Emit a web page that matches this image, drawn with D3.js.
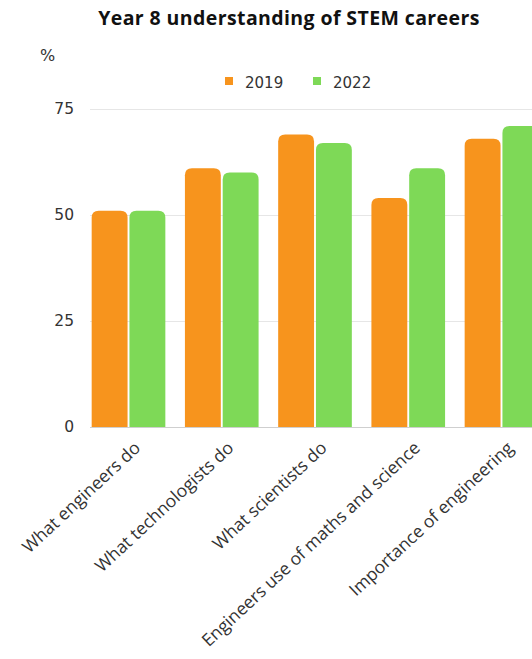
<!DOCTYPE html>
<html>
<head>
<meta charset="utf-8">
<script src="https://cdn.jsdelivr.net/npm/d3@7/dist/d3.min.js"></script>
<style>
  html, body { margin: 0; padding: 0; background: #fff; }
  svg { display: block; }
</style>
</head>
<body>
<svg id="chart" width="532" height="659"></svg>
<script>
// Survey topics shown on the x axis
const categories = [
  "What engineers do",
  "What technologists do",
  "What scientists do",
  "Engineers use of maths and science",
  "Importance of engineering"
];
// Survey years (one bar each per topic)
const years = ["2019", "2022"];
// Percentage of Year 8 pupils, per topic
const values2019 = [51, 61, 69, 54, 68];
const values2022 = [51, 60, 67, 61, 71];
// Y axis ticks
const yTicks = [0, 25, 50, 75];

const colors = { "2019": "#F7941D", "2022": "#7ED957" };
const seriesByYear = { "2019": values2019, "2022": values2022 };

const svg = d3.select("#chart");
const width = 532;

const plotTop = 109, plotBottom = 427, plotLeft = 90;

const y = d3.scaleLinear().domain([0, 75]).range([plotBottom, plotTop]);

const x0 = d3.scaleBand()
  .domain(categories)
  .range([plotLeft, 540])
  .paddingInner(0.21)
  .paddingOuter(0.018);

const x1 = d3.scaleBand()
  .domain(years)
  .range([0, x0.bandwidth()])
  .paddingInner(0.05);

// Title
svg.append("text")
  .attr("x", 289)
  .attr("y", 25)
  .attr("text-anchor", "middle")
  .attr("font-family", "'Open Sans', sans-serif")
  .attr("font-weight", 700)
  .attr("font-size", 19.5)
  .attr("letter-spacing", 0.4)
  .attr("fill", "#111")
  .text("Year 8 understanding of STEM careers");

// Unit label
svg.append("text")
  .attr("x", 40)
  .attr("y", 61)
  .attr("font-family", "'DejaVu Sans', sans-serif")
  .attr("font-size", 16)
  .attr("fill", "#333")
  .text("%");

// Legend
const legendItems = [
  { year: "2019", sx: 225, tx: 245 },
  { year: "2022", sx: 313, tx: 333 }
];
const legend = svg.append("g").attr("class", "legend");
legendItems.forEach(d => {
  legend.append("rect")
    .attr("x", d.sx).attr("y", 77)
    .attr("width", 8).attr("height", 8)
    .attr("fill", colors[d.year]);
  legend.append("text")
    .attr("x", d.tx).attr("y", 87.5)
    .attr("font-family", "'DejaVu Sans', sans-serif")
    .attr("font-size", 15)
    .attr("fill", "#333")
    .text(d.year);
});

// Horizontal gridlines and y tick labels
const yAxis = d3.axisLeft(y)
  .tickValues(yTicks)
  .tickSize(-(width - plotLeft))
  .tickPadding(16);

const gy = svg.append("g")
  .attr("transform", `translate(${plotLeft},0)`)
  .call(yAxis);
gy.select(".domain").remove();
gy.selectAll(".tick line")
  .attr("stroke", d => d === 0 ? "#cfcfcf" : "#e6e6e6")
  .attr("stroke-width", 1);
gy.selectAll(".tick text")
  .attr("font-family", "'DejaVu Sans', sans-serif")
  .attr("font-size", 15.5)
  .attr("fill", "#333");

// Bars with rounded top corners
function topRoundedRect(x, yTop, w, h, r) {
  r = Math.min(r, w / 2, h);
  return `M${x},${yTop + h}` +
    `V${yTop + r}` +
    `Q${x},${yTop} ${x + r},${yTop}` +
    `H${x + w - r}` +
    `Q${x + w},${yTop} ${x + w},${yTop + r}` +
    `V${yTop + h}Z`;
}

const rows = categories.map((c, i) => ({
  category: c,
  bars: years.map(yr => ({ year: yr, value: seriesByYear[yr][i] }))
}));

const groups = svg.append("g")
  .selectAll("g")
  .data(rows)
  .join("g")
  .attr("transform", d => `translate(${x0(d.category)},0)`);

groups.selectAll("path")
  .data(d => d.bars)
  .join("path")
  .attr("d", d => topRoundedRect(x1(d.year), y(d.value), x1.bandwidth(), y(0) - y(d.value), 7))
  .attr("fill", d => colors[d.year]);

// Rotated category labels
const xAxis = d3.axisBottom(x0).tickSize(0).tickPadding(0);
const gx = svg.append("g")
  .attr("transform", `translate(0,${plotBottom})`)
  .call(xAxis);
gx.select(".domain").remove();
gx.selectAll(".tick text")
  .attr("font-family", "'Open Sans', sans-serif")
  .attr("font-size", 17.5)
  .attr("fill", "#333")
  .attr("text-anchor", "end")
  .attr("y", null)
  .attr("transform", "translate(7,16) rotate(-43)")
  .attr("dy", "0.5em");
</script>
</body>
</html>
